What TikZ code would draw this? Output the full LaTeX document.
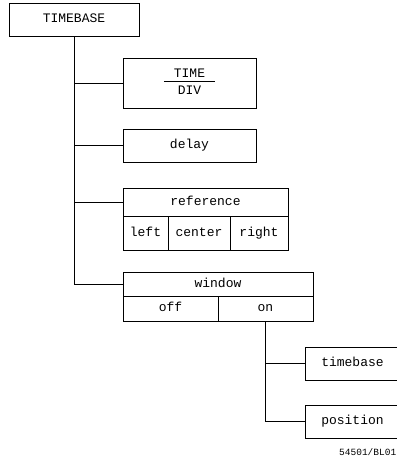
\documentclass[tikz,border=0pt]{standalone}
\usepackage{fontspec}
\setmainfont{Liberation Mono}
\begin{document}
\begin{tikzpicture}[x=1pt, y=-1pt,
    caja/.style={rectangle, draw, line width=0.8pt, inner sep=0pt, font=\fontsize{13}{15}\selectfont},
    linea/.style={line width=0.8pt},
    celda/.style={caja, text height=9pt, text depth=3pt}]
  \useasboundingbox (0,0) rectangle (397,459);
  % Nodos
  \node[celda, minimum width=130pt, minimum height=33pt] (tb) at (74,19.5) {TIMEBASE};
  \node[caja, minimum width=133pt, minimum height=50pt] (td) at (189.5,83)
    {\setlength{\tabcolsep}{10pt}\begin{tabular}{c}TIME\\[-1pt]\hline\rule{0pt}{13pt}DIV\end{tabular}};
  \node[celda, minimum width=133pt, minimum height=33pt] (dl) at (189.5,145.5) {delay};
  \node[celda, minimum width=165pt, minimum height=28pt] (ref) at (205.5,202) {reference};
  \node[celda, minimum width=45pt, minimum height=34pt] (left) at (145.5,233) {left};
  \node[celda, minimum width=62pt, minimum height=34pt] (center) at (199,233) {center};
  \node[celda, minimum width=58pt, minimum height=34pt] (right) at (259,233) {right};
  \node[celda, minimum width=190pt, minimum height=24pt] (win) at (218,284) {window};
  \node[celda, minimum width=95pt, minimum height=25pt] (off) at (170.5,308.5) {off};
  \node[celda, minimum width=95pt, minimum height=25pt] (on) at (265.5,308.5) {on};
  \node[celda, minimum width=95pt, minimum height=33pt] (tbx) at (352.5,363.5) {timebase};
  \node[celda, minimum width=95pt, minimum height=33pt] (pos) at (352.5,421.5) {position};
  \node[anchor=west, inner sep=0pt, font=\fontsize{9.5}{11}\selectfont] (fig) at (339,452) {54501/BL01};

  % Lineas
  \draw[linea] (tb.south) |- (win.west);
  \draw[linea] (tb.south |- td.west) -- (td.west);
  \draw[linea] (tb.south |- dl.west) -- (dl.west);
  \draw[linea] (tb.south |- ref.west) -- (ref.west);
  \draw[linea] (on.south) |- (pos.west);
  \draw[linea] (on.south |- tbx.west) -- (tbx.west);
\end{tikzpicture}
\end{document}
